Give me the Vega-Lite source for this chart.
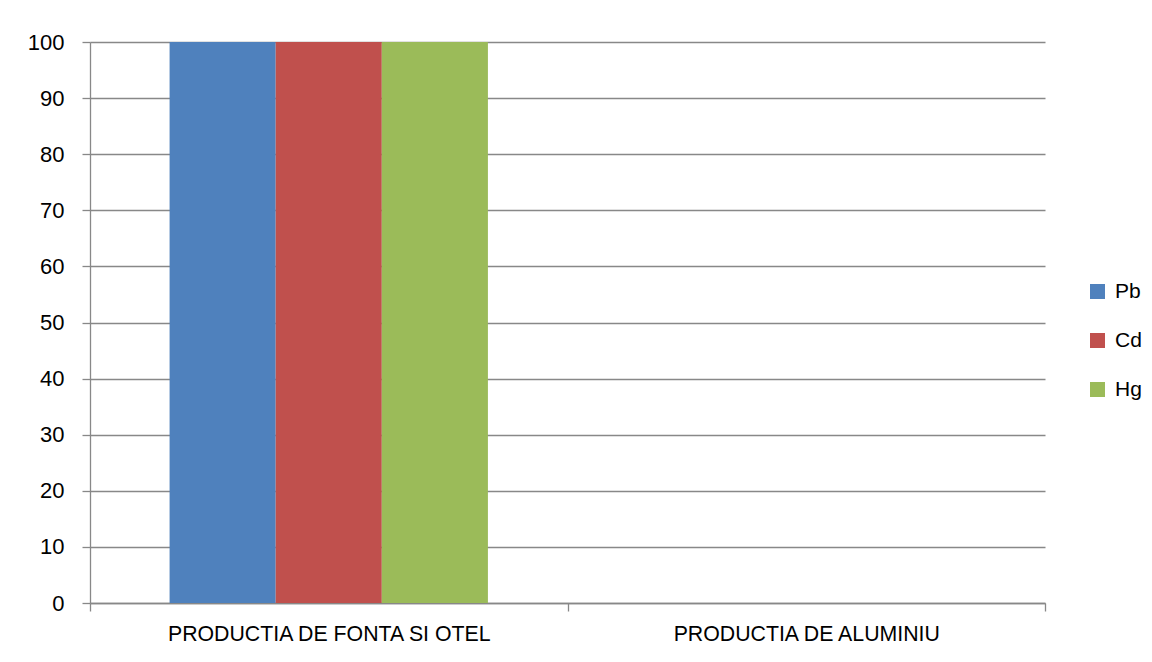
{
  "$schema": "https://vega.github.io/schema/vega-lite/v6.json",
  "autosize": {"type": "none"},
  "padding": {"left": 90, "top": 42, "right": 107, "bottom": 59},
  "width": 955,
  "height": 561,
  "background": "white",
  "data": {
    "values": [
      {"category": "PRODUCTIA DE FONTA SI OTEL", "metal": "Pb", "value": 100},
      {"category": "PRODUCTIA DE FONTA SI OTEL", "metal": "Cd", "value": 100},
      {"category": "PRODUCTIA DE FONTA SI OTEL", "metal": "Hg", "value": 100},
      {"category": "PRODUCTIA DE ALUMINIU", "metal": "Pb", "value": 0},
      {"category": "PRODUCTIA DE ALUMINIU", "metal": "Cd", "value": 0},
      {"category": "PRODUCTIA DE ALUMINIU", "metal": "Hg", "value": 0}
    ]
  },
  "mark": {"type": "bar"},
  "encoding": {
    "x": {
      "field": "category",
      "type": "nominal",
      "sort": null,
      "scale": {"paddingInner": 0, "paddingOuter": 0},
      "axis": {
        "title": null,
        "labelAngle": 0,
        "tickBand": "extent",
        "tickSize": 8,
        "tickColor": "#888888",
        "domainColor": "#888888",
        "labelPadding": 12,
        "labelFontSize": 21.3,
        "labelFont": "Liberation Sans",
        "labelColor": "#000000",
        "labelLimit": 0,
        "grid": false
      }
    },
    "xOffset": {
      "field": "metal",
      "type": "nominal",
      "sort": ["Pb", "Cd", "Hg"],
      "scale": {"paddingInner": 0, "paddingOuter": 0.75}
    },
    "y": {
      "field": "value",
      "type": "quantitative",
      "scale": {"domain": [0, 100], "nice": false},
      "axis": {
        "title": null,
        "values": [0, 10, 20, 30, 40, 50, 60, 70, 80, 90, 100],
        "tickSize": 8,
        "tickColor": "#888888",
        "domainColor": "#888888",
        "gridColor": "#888888",
        "grid": true,
        "labelPadding": 18,
        "labelFontSize": 22,
        "labelFont": "Liberation Sans",
        "labelColor": "#000000"
      }
    },
    "color": {
      "field": "metal",
      "type": "nominal",
      "sort": ["Pb", "Cd", "Hg"],
      "scale": {"domain": ["Pb", "Cd", "Hg"], "range": ["#4F81BD", "#C0504D", "#9BBB59"]},
      "legend": {
        "title": null,
        "orient": "none",
        "legendX": 997,
        "legendY": 239,
        "symbolType": "square",
        "symbolSize": 225,
        "symbolStrokeWidth": 0,
        "labelFontSize": 21,
        "labelFont": "Liberation Sans",
        "labelColor": "#000000",
        "rowPadding": 27,
        "labelOffset": 7
      }
    }
  },
  "config": {
    "view": {"stroke": null},
    "axis": {"domainWidth": 1.3, "gridWidth": 1.3, "tickWidth": 1.3}
  }
}
